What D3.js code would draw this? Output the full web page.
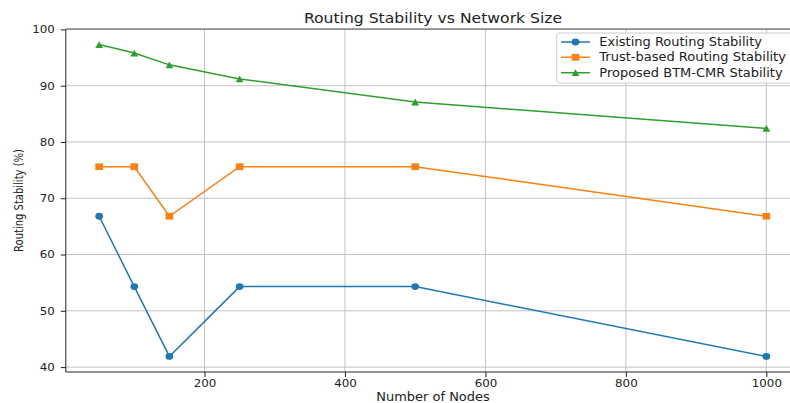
<!DOCTYPE html>
<html>
<head>
<meta charset="utf-8">
<script src="https://cdn.jsdelivr.net/npm/d3@7"></script>
<style>
  body { margin: 0; background: #fff; }
  svg { display: block; }
  text { font-family: "DejaVu Sans", sans-serif; fill: #222; }
</style>
</head>
<body>
<svg id="chart" width="790" height="403"></svg>
<script>
// Network sizes (x) and routing stability per approach (%)
const nodes = [50, 100, 150, 250, 500, 1000];
const existingStability = [66.8, 54.3, 41.9, 54.3, 54.3, 41.9];
const trustStability = [75.6, 75.6, 66.8, 75.6, 75.6, 66.8];
const proposedStability = [97.3, 95.8, 93.7, 91.2, 87.1, 82.4];

const seriesNames = ["Existing Routing Stability", "Trust-based Routing Stability", "Proposed BTM-CMR Stability"];
const seriesColors = ["#1f77b4", "#ff7f0e", "#2ca02c"];
const seriesMarkers = ["circle", "square", "triangle"];

const xTicks = [200, 400, 600, 800, 1000];
const yTicks = [40, 50, 60, 70, 80, 90, 100];

const titleText = "Routing Stability vs Network Size";
const xLabel = "Number of Nodes";
const yLabel = "Routing Stability (%)";

// Horizontal stretch applied to text and markers
const SX = 1.14;

const svg = d3.select("#chart");
const plot = { left: 65.8, right: 799.7, top: 29, bottom: 372 };

// Axis ranges padded 5% beyond the data, like the default autoscale
const xMin = d3.min(nodes), xMax = d3.max(nodes);
const xPad = (xMax - xMin) * 0.05;
const allY = existingStability.concat(trustStability, proposedStability);
const yMin = d3.min(allY), yMax = d3.max(allY);
const yPad = (yMax - yMin) * 0.05;

const x = d3.scaleLinear().domain([xMin - xPad, xMax + xPad]).range([plot.left, plot.right]);
const y = d3.scaleLinear().domain([yMin - yPad, yMax + yPad]).range([plot.bottom, plot.top]);

// Grid
const grid = svg.append("g").attr("stroke", "#c2c2c2").attr("stroke-width", 1);
grid.selectAll("line.gx").data(xTicks).join("line")
  .attr("x1", d => x(d)).attr("x2", d => x(d))
  .attr("y1", plot.top).attr("y2", plot.bottom);
grid.selectAll("line.gy").data(yTicks).join("line")
  .attr("x1", plot.left).attr("x2", plot.right)
  .attr("y1", d => y(d)).attr("y2", d => y(d));

// Axes
const fmt = d3.format("d");
const xAxis = svg.append("g").attr("transform", `translate(0,${plot.bottom})`)
  .call(d3.axisBottom(x).tickValues(xTicks).tickFormat(fmt).tickSize(5).tickPadding(3));
const yAxis = svg.append("g").attr("transform", `translate(${plot.left},0)`)
  .call(d3.axisLeft(y).tickValues(yTicks).tickFormat(fmt).tickSize(5).tickPadding(3));
[xAxis, yAxis].forEach(a => {
  a.select(".domain").remove();
  a.selectAll(".tick line").attr("stroke", "#222");
  a.selectAll(".tick text").attr("font-size", 10.4).attr("fill", "#222")
    .style("font-family", "DejaVu Sans, sans-serif");
});
xAxis.selectAll(".tick text").attr("transform", `scale(${SX},1)`);
yAxis.selectAll(".tick text").attr("x", 0).attr("transform", `translate(-11,0) scale(${SX},1)`);

// Spines
svg.append("line").attr("x1", plot.left).attr("x2", plot.left).attr("y1", plot.top).attr("y2", plot.bottom)
  .attr("stroke", "#222").attr("stroke-width", 1);
svg.append("line").attr("x1", plot.left).attr("x2", plot.right).attr("y1", plot.bottom).attr("y2", plot.bottom)
  .attr("stroke", "#222").attr("stroke-width", 1);
svg.append("line").attr("x1", plot.left).attr("x2", plot.right).attr("y1", plot.top).attr("y2", plot.top)
  .attr("stroke", "#555").attr("stroke-width", 1.2);

// Marker shapes
function markerPath(kind) {
  if (kind === "circle") return d3.symbol(d3.symbolCircle, 36)();
  if (kind === "square") return d3.symbol(d3.symbolSquare, 45)();
  const s = 3.4;
  return `M0,${-s}L${s},${s}L${-s},${s}Z`;
}

// Series
const seriesValues = [existingStability, trustStability, proposedStability];
const line = d3.line().x(d => x(d[0])).y(d => y(d[1]));
seriesValues.forEach((vals, i) => {
  const pts = nodes.map((n, j) => [n, vals[j]]);
  const g = svg.append("g");
  g.append("path").datum(pts).attr("d", line)
    .attr("fill", "none").attr("stroke", seriesColors[i]).attr("stroke-width", 1.5);
  g.selectAll("path.m").data(pts).join("path").attr("class", "m")
    .attr("d", markerPath(seriesMarkers[i]))
    .attr("fill", seriesColors[i])
    .attr("transform", d => `translate(${x(d[0])},${y(d[1])}) scale(${SX},1)`);
});

// Title and axis labels
svg.append("text").attr("transform", `translate(433,22.7) scale(${SX},1)`)
  .attr("text-anchor", "middle").attr("font-size", 13.7).text(titleText);
svg.append("text").attr("transform", `translate(433,401) scale(${SX},1)`)
  .attr("text-anchor", "middle").attr("font-size", 11.4).text(xLabel);
svg.append("text").attr("transform", `translate(22.5,200.5) scale(${SX},1) rotate(-90)`)
  .attr("text-anchor", "middle").attr("font-size", 10).text(yLabel);

// Legend
const legend = svg.append("g");
legend.append("rect").attr("x", 556.7).attr("y", 33).attr("width", 240).attr("height", 50)
  .attr("rx", 2.5).attr("fill", "#fff").attr("fill-opacity", 0.8)
  .attr("stroke", "#cccccc").attr("stroke-width", 1);
const rowY = [42, 57.3, 72.7];
seriesNames.forEach((name, i) => {
  legend.append("line").attr("x1", 561).attr("x2", 590).attr("y1", rowY[i]).attr("y2", rowY[i])
    .attr("stroke", seriesColors[i]).attr("stroke-width", 1.5);
  legend.append("path").attr("d", markerPath(seriesMarkers[i])).attr("fill", seriesColors[i])
    .attr("transform", `translate(575.5,${rowY[i]}) scale(${SX},1)`);
  legend.append("text").attr("transform", `translate(599.3,${rowY[i] + 4.1}) scale(${SX},1)`)
    .attr("font-size", 11.4).text(name);
});
</script>
</body>
</html>
